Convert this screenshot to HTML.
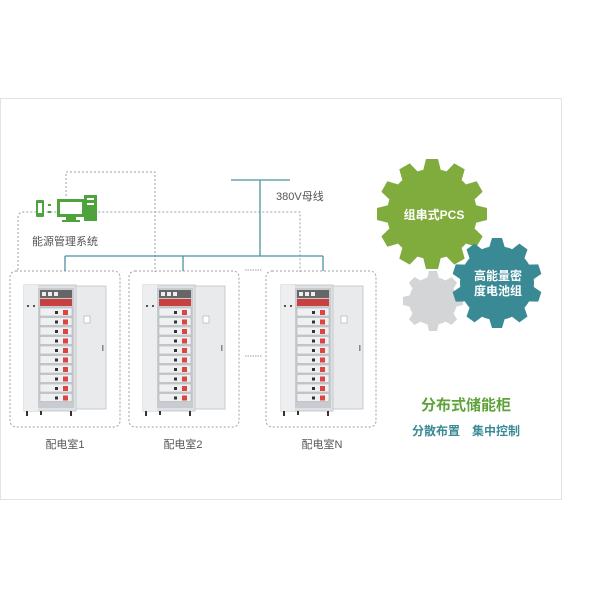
<!DOCTYPE html>
<html><head><meta charset="utf-8"><style>
body{margin:0;background:#fff;}
svg{display:block;font-family:"Liberation Sans","Noto Sans CJK SC",sans-serif;}
</style></head><body>
<svg width="600" height="600" viewBox="0 0 600 600">
<defs>
<g id="cab">
 <rect x="0" y="0" width="52" height="126" fill="#dfe2e5" stroke="#c5c9cc"/>
 <rect x="0" y="0" width="14" height="126" fill="#eceef0"/>
 <rect x="14" y="3" width="36" height="120" fill="#c8ccd0"/>
 <rect x="16" y="5" width="32" height="8" fill="#666"/>
 <rect x="18" y="7" width="4" height="4" fill="#eee"/><rect x="24" y="7" width="4" height="4" fill="#eee"/><rect x="30" y="7" width="4" height="4" fill="#eee"/>
 <rect x="16" y="14" width="32" height="7" fill="#c94040"/>
 <g id="mods">
 <rect x="16" y="23" width="32" height="8" fill="#eef0f2" stroke="#aaa" stroke-width=".5"/><rect x="39" y="25" width="5" height="5" fill="#d44"/><rect x="31" y="26" width="3" height="3" fill="#333"/>
 </g>
 <use href="#mods" y="9.5"/><use href="#mods" y="19"/><use href="#mods" y="28.5"/><use href="#mods" y="38"/><use href="#mods" y="47.5"/><use href="#mods" y="57"/><use href="#mods" y="66.5"/><use href="#mods" y="76"/><use href="#mods" y="85.5"/>
 <rect x="3" y="20" width="2" height="2" fill="#555"/><rect x="9" y="20" width="2" height="2" fill="#555"/>
 <rect x="52" y="1" width="30" height="123" fill="#e8eaec" stroke="#c8cbce"/>
 <rect x="60" y="31" width="6" height="7" fill="#fff" stroke="#999" stroke-width=".5"/>
 <rect x="78" y="60" width="1.5" height="6" fill="#888"/>
 <rect x="2" y="126" width="2" height="5" fill="#333"/><rect x="46" y="126" width="2" height="5" fill="#333"/><rect x="16" y="126" width="2" height="4" fill="#333"/>
</g>
</defs>
<rect x="0.5" y="98.5" width="561" height="401" fill="#fff" stroke="#e3e3e3"/>
<g fill="none" stroke="#9aa0a4" stroke-dasharray="2,2" stroke-width="1">
 <path d="M66 196 V172 H155 V272"/>
 <path d="M18 270 V218 Q18 212 24 212 H300 V272"/>
 <rect x="10" y="271" width="110" height="156" rx="6"/>
 <rect x="129" y="271" width="110" height="156" rx="6"/>
 <rect x="266" y="271" width="110" height="156" rx="6"/>
 <path d="M245 270 H262 M245 356 H262" stroke-dasharray="1.5,1"/>
</g>
<g stroke="#4a93a0" stroke-width="1.3" fill="none">
 <path d="M231 180 H290"/><path d="M260 180 V256"/><path d="M65 256 H323"/>
 <path d="M65 256 V271 M183 256 V271 M323 256 V271"/>
</g>
<text x="276" y="200" font-size="11" fill="#555">380V母线</text>
<g fill="#4fa33d">
 <rect x="36" y="200" width="8" height="17" rx="1"/><rect x="38" y="203" width="4" height="10" fill="#fff"/>
 <rect x="48" y="204" width="3" height="2"/><rect x="48" y="211" width="3" height="2"/>
 <rect x="57" y="199" width="28" height="18"/><rect x="60" y="202" width="22" height="12" fill="#fff"/>
 <rect x="66" y="217" width="10" height="3"/><rect x="62" y="220" width="18" height="2"/>
 <rect x="84" y="195" width="13" height="26"/><rect x="87" y="198" width="7" height="2" fill="#fff"/><rect x="87" y="203" width="7" height="2" fill="#fff"/>
</g>
<text x="32" y="245" font-size="11" fill="#555">能源管理系统</text>
<use href="#cab" x="24" y="285"/>
<use href="#cab" x="143" y="285"/>
<use href="#cab" x="281" y="285"/>
<text x="65" y="448" font-size="11" fill="#555" text-anchor="middle">配电室1</text>
<text x="183" y="448" font-size="11" fill="#555" text-anchor="middle">配电室2</text>
<text x="322" y="448" font-size="11" fill="#555" text-anchor="middle">配电室N</text>
<g fill="#7fac3c" transform="translate(432,214)">
 <circle r="45"/>
 <g id="t12"><polygon points="-9,-43 -6,-55 6,-55 9,-43"/></g>
 <use href="#t12" transform="rotate(30)"/><use href="#t12" transform="rotate(60)"/><use href="#t12" transform="rotate(90)"/><use href="#t12" transform="rotate(120)"/><use href="#t12" transform="rotate(150)"/><use href="#t12" transform="rotate(180)"/><use href="#t12" transform="rotate(210)"/><use href="#t12" transform="rotate(240)"/><use href="#t12" transform="rotate(270)"/><use href="#t12" transform="rotate(300)"/><use href="#t12" transform="rotate(330)"/>
</g>
<g fill="#d4d5d6" transform="translate(433,301)">
 <circle r="24"/>
 <g id="t8"><polygon points="-6,-22 -4,-30 4,-30 6,-22"/></g>
 <use href="#t8" transform="rotate(45)"/><use href="#t8" transform="rotate(90)"/><use href="#t8" transform="rotate(135)"/><use href="#t8" transform="rotate(180)"/><use href="#t8" transform="rotate(225)"/><use href="#t8" transform="rotate(270)"/><use href="#t8" transform="rotate(315)"/>
</g>
<g fill="#3a8a96" transform="translate(497,283)">
 <circle r="37"/>
 <g id="t10"><polygon points="-8,-35 -5,-45 5,-45 8,-35"/></g>
 <use href="#t10" transform="rotate(36)"/><use href="#t10" transform="rotate(72)"/><use href="#t10" transform="rotate(108)"/><use href="#t10" transform="rotate(144)"/><use href="#t10" transform="rotate(180)"/><use href="#t10" transform="rotate(216)"/><use href="#t10" transform="rotate(252)"/><use href="#t10" transform="rotate(288)"/><use href="#t10" transform="rotate(324)"/>
</g>
<text x="434" y="219" font-size="12" font-weight="bold" fill="#fff" text-anchor="middle">组串式PCS</text>
<text x="498" y="280" font-size="12" font-weight="bold" fill="#fff" text-anchor="middle">高能量密</text>
<text x="498" y="295" font-size="12" font-weight="bold" fill="#fff" text-anchor="middle">度电池组</text>
<text x="466" y="410" font-size="15" font-weight="bold" fill="#5ea33a" text-anchor="middle">分布式储能柜</text>
<text x="466" y="435" font-size="12" font-weight="bold" fill="#3a8a96" text-anchor="middle">分散布置　集中控制</text>
</svg>
</body></html>
